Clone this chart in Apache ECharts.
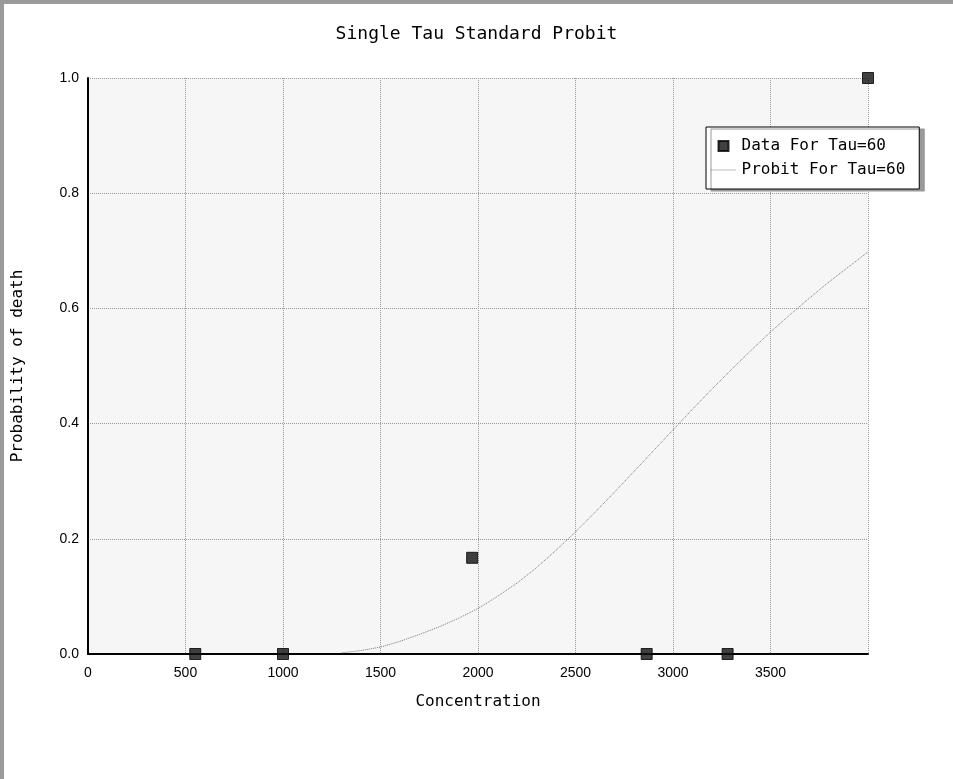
<!DOCTYPE html>
<html>
<head>
<meta charset="utf-8">
<script src="https://cdn.jsdelivr.net/npm/echarts@6/dist/echarts.min.js"></script>
<style>
html,body{margin:0;padding:0;background:#fff;}
#c{width:953px;height:779px;}
</style>
</head>
<body>
<div id="c"></div>
<script>
var titleText = "Single Tau Standard Probit";
var xName = "Concentration";
var yName = "Probability of death";
var dataName = "Data For Tau=60";
var probitName = "Probit For Tau=60";

var dataX = [550, 1000, 1970, 2865, 3280, 4000];
var dataY = [0.0, 0.0, 0.167, 0.0, 0.0, 1.0];

var probitX = [1300,1400,1500,1600,1700,1800,1900,2000,2100,2200,2300,2400,2500,2600,2700,2800,2900,3000,3100,3200,3300,3400,3500,3600,3700,3800,3900,4000];
var probitY = [0.002,0.006,0.012,0.022,0.034,0.047,0.062,0.079,0.100,0.123,0.150,0.180,0.212,0.246,0.281,0.317,0.353,0.389,0.425,0.460,0.494,0.527,0.559,0.589,0.618,0.646,0.672,0.698];

var mono = "DejaVu Sans Mono";
var tickFont = "Liberation Sans";
var chart = echarts.init(document.getElementById('c'), null, {renderer:'canvas'});
chart.setOption({
  animation:false,
  backgroundColor:'#fff',
  title:{text:titleText,left:'center',top:20,textStyle:{fontFamily:mono,fontSize:18,fontWeight:'normal',color:'#000'}},
  grid:{left:88,right:85,top:78,bottom:125,show:true,backgroundColor:'#f6f6f6',borderWidth:0},
  legend:{
    orient:'vertical',left:706,top:127,
    backgroundColor:'#fff',borderColor:'#000',borderWidth:1,
    padding:[11,14,11,4],itemGap:8,itemWidth:26,itemHeight:10,
    shadowColor:'#9a9a9a',shadowOffsetX:5,shadowOffsetY:2,shadowBlur:0,
    textStyle:{fontFamily:mono,fontSize:16,color:'#000'},
    data:[
      {name:dataName,icon:'path://M0,0 L10,0 L10,10 L0,10 Z'},
      {name:probitName,itemStyle:{opacity:0},lineStyle:{color:'#777',width:1,type:'dotted'}}
    ]
  },
  xAxis:{
    type:'value',min:0,max:4000,interval:500,
    name:xName,nameLocation:'middle',nameGap:40,
    nameTextStyle:{fontFamily:mono,fontSize:16,color:'#000'},
    axisLine:{show:true,onZero:false,lineStyle:{color:'#000',width:2}},
    axisTick:{show:false},
    axisLabel:{showMaxLabel:false,fontFamily:tickFont,fontSize:14,color:'#000',margin:12,formatter:function(v){return String(v);}},
    splitLine:{show:true,lineStyle:{color:'#9a9a9a',type:'dotted',width:1}}
  },
  yAxis:{
    type:'value',min:0,max:1,interval:0.2,
    name:yName,nameLocation:'middle',nameGap:62,
    nameTextStyle:{fontFamily:mono,fontSize:16,color:'#000'},
    axisLine:{show:true,lineStyle:{color:'#000',width:2}},
    axisTick:{show:false},
    axisLabel:{fontFamily:tickFont,fontSize:14,color:'#000',margin:9,formatter:function(v){return v.toFixed(1);}},
    splitLine:{show:true,lineStyle:{color:'#9a9a9a',type:'dotted',width:1}}
  },
  series:[
    {name:probitName,type:'line',showSymbol:false,symbol:'none',
     lineStyle:{color:'#777',width:1,type:'dotted'},itemStyle:{color:'#777'},
     data:probitX.map(function(x,i){return [x,probitY[i]];}),z:2},
    {name:dataName,type:'scatter',symbol:'rect',symbolSize:11,symbolKeepAspect:true,
     itemStyle:{color:'#111',borderColor:'#000',borderWidth:1},
     data:dataX.map(function(x,i){return [x,dataY[i]];}),z:3,clip:false}
  ],
  graphic:[
    {type:'rect',shape:{x:0,y:0,width:953,height:4},style:{fill:'#9a9a9a'}},
    {type:'rect',shape:{x:0,y:0,width:4,height:779},style:{fill:'#9a9a9a'}}
  ]
});
</script>
</body>
</html>
